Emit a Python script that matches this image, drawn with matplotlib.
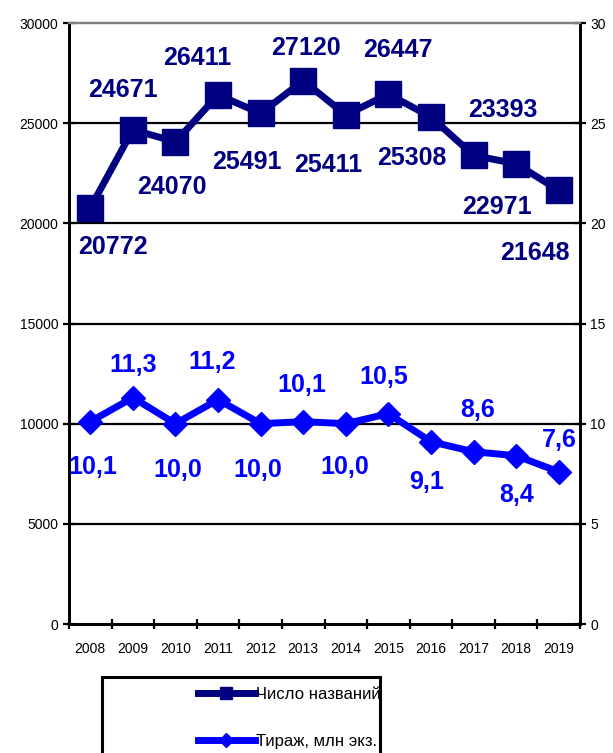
import matplotlib
matplotlib.use("Agg")
import matplotlib.pyplot as plt
from matplotlib.patches import Rectangle

plt.rcParams['font.family'] = ['Liberation Sans', 'DejaVu Sans']

years = ['2008', '2009', '2010', '2011', '2012', '2013',
         '2014', '2015', '2016', '2017', '2018', '2019']
titles = [20772, 24671, 24070, 26411, 25491, 27120,
          25411, 26447, 25308, 23393, 22971, 21648]
copies = [10.1, 11.3, 10.0, 11.2, 10.0, 10.1,
          10.0, 10.5, 9.1, 8.6, 8.4, 7.6]
titles_name = 'Число названий'
copies_name = 'Тираж, млн экз.'

# label offsets in pixels (dx, dy), dy positive = up
titles_off = [(23, -39), (-10, 40), (-4, -45), (-21, 37), (-14, -49), (3, 33),
              (-18, -50), (9, 44), (-19, -41), (29, 45), (-19, -43), (-24, -63)]
copies_off = [(3, -45), (0, 33), (2, -46), (-6, 38), (-3, -46), (-1, 37),
              (-1, -43), (-5, 37), (-4, -40), (4, 42), (1, -39), (1, 32)]

navy = '#000080'
blue = '#0000FF'

W, H = 613, 753
fig = plt.figure(figsize=(W / 100, H / 100), dpi=100)
ax = fig.add_axes([69 / W, 1 - 624 / H, 511 / W, 601 / H])
ax2 = ax.twinx()

x = list(range(len(years)))

l1, = ax.plot(x, titles, color=navy, lw=5, marker='s', ms=19, zorder=5,
              label=titles_name)
l2, = ax2.plot(x, copies, color=blue, lw=5, marker='D', ms=12.5, zorder=5,
               label=copies_name)

for i, v in enumerate(titles):
    ax.annotate(str(v), (x[i], v), xytext=titles_off[i], textcoords='offset pixels',
                ha='center', va='center', fontsize=18, fontweight='bold',
                color=navy, zorder=6)
for i, v in enumerate(copies):
    ax2.annotate(f'{v:.1f}'.replace('.', ','), (x[i], v), xytext=copies_off[i],
                 textcoords='offset pixels', ha='center', va='center',
                 fontsize=18, fontweight='bold', color=blue, zorder=6)

ax.set_xlim(-0.5, len(years) - 0.5)
ax.set_ylim(0, 30000)
ax2.set_ylim(0, 30)
ax.set_yticks(range(0, 30001, 5000))
ax2.set_yticks(range(0, 31, 5))

for yv in range(5000, 30000, 5000):
    ax.axhline(yv, color='black', lw=1.6, zorder=1)

ax.set_xticks([i - 0.5 for i in range(len(years) + 1)])
ax.set_xticklabels([])
ax.set_xticks(x, minor=True)
ax.set_xticklabels(years, minor=True)
ax.tick_params(axis='x', which='major', direction='inout', length=7, width=1.6)
ax.tick_params(axis='x', which='minor', length=0, labelsize=10, pad=13)
ax.tick_params(axis='y', direction='inout', length=9, width=1.6, labelsize=10, pad=3)
ax2.tick_params(axis='y', direction='inout', length=9, width=1.6, labelsize=10, pad=3)

for a in (ax, ax2):
    a.spines['left'].set_linewidth(2)
    a.spines['right'].set_linewidth(2)
    a.spines['bottom'].set_linewidth(2)
    a.spines['top'].set_color('#808080')
    a.spines['top'].set_linewidth(1.6)

# legend box
fig.patches.append(Rectangle((102 / W, -0.05), (380 - 102) / W, 0.05 + 1 - 677 / H,
                             transform=fig.transFigure, fill=False,
                             edgecolor='black', lw=2.2))
h1, = ax.plot([], [], color=navy, lw=5, marker='s', ms=9)
h2, = ax.plot([], [], color=blue, lw=5, marker='D', ms=7)
fig.legend([h1, h2], [titles_name, copies_name], loc='upper left',
           bbox_to_anchor=(198 / W, 1 - 687 / H), frameon=False, fontsize=12,
           handlelength=3.4, handletextpad=0.05, labelspacing=1.9,
           borderpad=0, borderaxespad=0)

fig.savefig('out.png', dpi=100)
